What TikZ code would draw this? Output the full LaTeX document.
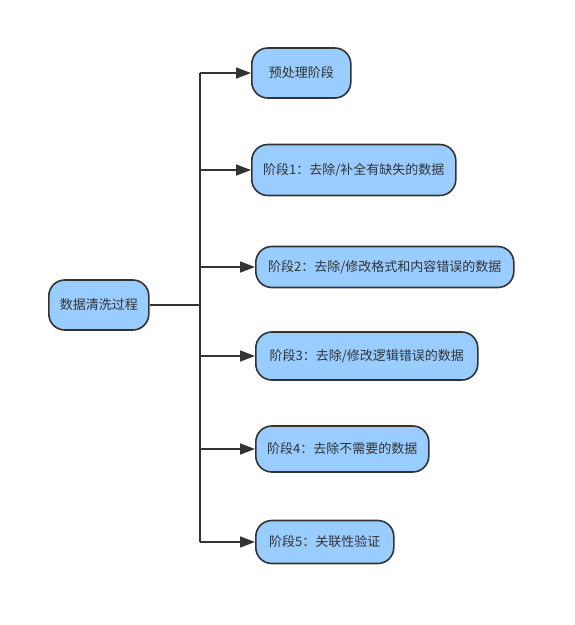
\documentclass[tikz,border=0pt]{standalone}
\usepackage{fontspec}
\newfontfamily\cjk{Noto Sans CJK SC}
\usepackage{tikz}
\usetikzlibrary{arrows.meta}
\definecolor{boxfill}{HTML}{99CCFF}
\definecolor{inkgray}{HTML}{333333}
\tikzset{every picture/.style={line width=1.6pt}}
\tikzset{
  stagebox/.style={draw=inkgray, fill=boxfill, rounded corners=16pt, inner xsep=9pt, inner ysep=0pt,
    text=inkgray, font=\cjk\fontsize{13}{15}\selectfont, anchor=west},
  flow/.style={draw=inkgray, -{Triangle[length=15pt,width=11pt]}}
}
\begin{document}
\begin{tikzpicture}[x=1pt,y=1pt,yscale=-1,xscale=1]
\useasboundingbox (0,0) rectangle (575,625);

% Root Node
\node [stagebox, minimum width=100pt, minimum height=50pt] (root) at (48,305) {数据清洗过程};

% Stage Nodes
\node [stagebox, minimum width=99pt, minimum height=50pt] (s0) at (251,73) {预处理阶段};
\node [stagebox, minimum width=204pt, minimum height=51pt] (s1) at (251,170) {阶段1：去除/补全有缺失的数据};
\node [stagebox, minimum width=258pt, minimum height=41pt] (s2) at (255,267) {阶段2：去除/修改格式和内容错误的数据};
\node [stagebox, minimum width=222pt, minimum height=48pt] (s3) at (255,356) {阶段3：去除/修改逻辑错误的数据};
\node [stagebox, minimum width=173pt, minimum height=46pt] (s4) at (255,449) {阶段4：去除不需要的数据};
\node [stagebox, minimum width=138pt, minimum height=43pt] (s5) at (255,542) {阶段5：关联性验证};

%Straight Lines
\coordinate (trunk) at (200,305);
\draw [inkgray] (root.east) -- (trunk);
\draw [inkgray] (trunk |- s0.west) -- (trunk |- s5.west);
\foreach \s in {s0,s1,s2,s3,s4,s5}
  \draw [flow] (trunk |- \s.west) -- (\s.west);

\end{tikzpicture}
\end{document}
